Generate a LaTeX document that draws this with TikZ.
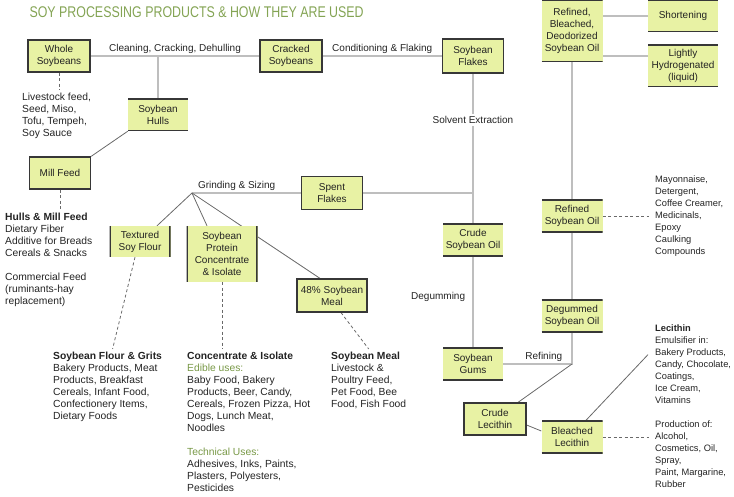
\documentclass[tikz,border=0pt]{standalone}
\usepackage{fontspec}
\setmainfont{Liberation Sans}
\newfontfamily\titlefont{Liberation Sans}[FakeStretch=0.8]
\usepackage{tikz}
\usetikzlibrary{backgrounds}
\usepackage{xcolor}
\definecolor{BoxFill}{RGB}{232,242,164}
\definecolor{Rule}{RGB}{55,55,55}
\definecolor{Pipe}{RGB}{190,190,190}
\definecolor{Wire}{RGB}{105,105,105}
\definecolor{Ink}{RGB}{35,35,35}
\definecolor{TitleGreen}{RGB}{132,164,84}
\definecolor{UseGreen}{RGB}{120,152,70}
\tikzset{
  sbox/.style={rectangle,fill=BoxFill,text=Ink,font=\fontsize{10}{12}\selectfont,
               align=center,minimum width=61pt,minimum height=32pt,inner sep=1pt},
  fullbox/.style={sbox,draw=Rule,line width=1.2pt},
  tbbox/.style={sbox,path picture={\draw[Rule,line width=2.6pt]
      (path picture bounding box.north west) -- (path picture bounding box.north east)
      (path picture bounding box.south west) -- (path picture bounding box.south east);}},
  lrbox/.style={sbox,path picture={\draw[Rule,line width=2.6pt]
      (path picture bounding box.north west) -- (path picture bounding box.south west)
      (path picture bounding box.north east) -- (path picture bounding box.south east);}},
  flow/.style={Pipe,line width=1.8pt},
  branch/.style={Wire,line width=0.8pt},
  usedash/.style={Wire,line width=0.8pt,dash pattern=on 3pt off 2.5pt},
  usetext/.style={anchor=north west,align=left,text=Ink,inner xsep=6pt,inner ysep=3pt,
                  font=\fontsize{10.3}{12}\selectfont},
  rtext/.style={usetext,font=\fontsize{9.3}{12}\selectfont},
  steplabel/.style={text=Ink,font=\fontsize{10}{12}\selectfont,inner sep=2pt},
}

\begin{document}
\begin{tikzpicture}[x=1pt,y=-1pt]
  \useasboundingbox (0,0) rectangle (734,497);
  \node[anchor=west,text=TitleGreen,font=\titlefont\fontsize{15.5}{18}\selectfont] (title) at (26,12)
    {SOY PROCESSING PRODUCTS \& HOW THEY ARE USED};

  \node[fullbox,minimum width=62pt] (whole) at (59,56) {Whole\\Soybeans};
  \node[fullbox,minimum width=62pt] (cracked) at (291,56) {Cracked\\Soybeans};
  \node[fullbox,minimum height=34pt] (flakes) at (473,56) {Soybean\\Flakes};
  \node[tbbox,minimum height=62pt] (rbd) at (572,31) {Refined,\\Bleached,\\Deodorized\\Soybean Oil};
  \node[tbbox,minimum width=70pt] (short) at (683,16) {Shortening};
  \node[tbbox,minimum width=70pt,minimum height=42pt] (light) at (683,66) {Lightly\\Hydrogenated\\(liquid)};
  \node[tbbox,minimum width=60pt] (hulls) at (158,115) {Soybean\\Hulls};
  \node[fullbox] (mill) at (60,173) {Mill Feed};
  \node[fullbox,minimum height=33pt] (spent) at (332,193) {Spent\\Flakes};
  \node[lrbox,minimum height=31pt] (flour) at (140,241.5) {Textured\\Soy Flour};
  \node[lrbox,minimum width=71pt,minimum height=56pt] (protein) at (222,254) {Soybean\\Protein\\Concentrate\\\& Isolate};
  \node[fullbox,minimum width=70pt,minimum height=33pt] (meal) at (332,295.5) {48\% Soybean\\Meal};
  \node[tbbox,minimum width=60pt,minimum height=33pt] (crudeoil) at (473,240) {Crude\\Soybean Oil};
  \node[tbbox,minimum height=33pt] (refined) at (572,216) {Refined\\Soybean Oil};
  \node[tbbox] (degummed) at (572,316) {Degummed\\Soybean Oil};
  \node[tbbox,minimum width=60pt,minimum height=33pt] (gums) at (473,364) {Soybean\\Gums};
  \node[fullbox,minimum width=62pt] (crudelec) at (495,419) {Crude\\Lecithin};
  \node[tbbox,minimum height=33pt] (bleached) at (572,437) {Bleached\\Lecithin};

  \node[usetext] (wholeuse) at (16,90) {Livestock feed,\\Seed, Miso,\\Tofu, Tempeh,\\Soy Sauce};
  \node[usetext] (milluse) at (-1,210) {\textbf{Hulls \& Mill Feed}\\Dietary Fiber\\Additive for Breads\\Cereals \& Snacks\\[12pt]
    Commercial Feed\\(ruminants-hay\\replacement)};
  \node[usetext] (flouruse) at (47,349) {\textbf{Soybean Flour \& Grits}\\Bakery Products, Meat\\Products, Breakfast\\
    Cereals, Infant Food,\\Confectionery Items,\\Dietary Foods};
  \node[usetext] (proteinuse) at (181,349) {\textbf{Concentrate \& Isolate}\\{\color{UseGreen}Edible uses:}\\Baby Food, Bakery\\
    Products, Beer, Candy,\\Cereals, Frozen Pizza, Hot\\Dogs, Lunch Meat,\\Noodles\\[12pt]
    {\color{UseGreen}Technical Uses:}\\Adhesives, Inks, Paints,\\Plasters, Polyesters,\\Pesticides};
  \node[usetext] (mealuse) at (325,349) {\textbf{Soybean Meal}\\Livestock \&\\Poultry Feed,\\Pet Food, Bee\\Food, Fish Food};
  \node[rtext] (mayo) at (649,173) {Mayonnaise,\\Detergent,\\Coffee Creamer,\\Medicinals,\\Epoxy\\Caulking\\Compounds};
  \node[rtext] (lecuse) at (649,322) {\textbf{Lecithin}\\Emulsifier in:\\Bakery Products,\\Candy, Chocolate,\\Coatings,\\Ice Cream,\\Vitamins};
  \node[rtext] (produse) at (649,418) {Production of:\\Alcohol,\\Cosmetics, Oil,\\Spray,\\Paint, Margarine,\\Rubber};

  \coordinate (branchpt) at (192,193);
  \coordinate (rjoin) at (degummed.south |- gums.east);

  \begin{scope}[on background layer]
    \draw[flow] (whole) -- node[steplabel,above] {Cleaning, Cracking, Dehulling} (cracked);
    \draw[flow] (cracked) -- node[steplabel,above] {Conditioning \& Flaking} (flakes);
    \draw[flow] (hulls.north) -- (hulls.north |- whole.east);
    \draw[flow] (flakes) -- node[steplabel,fill=white,pos=0.31] {Solvent Extraction} (crudeoil);
    \draw[flow] (crudeoil) -- node[steplabel,left=5pt,pos=0.44] {Degumming} (gums);
    \draw[flow] (branchpt) -- node[steplabel,above,pos=0.41] {Grinding \& Sizing} (spent);
    \draw[flow] (spent) -- (spent.east -| flakes.south);
    \draw[flow] (rbd) -- (refined);
    \draw[flow] (rbd.east |- short.west) -- (short.west);
    \draw[flow] ([yshift=10pt]light.west -| rbd.east) -- ([yshift=10pt]light.west);
    \draw[flow] (refined) -- (degummed);
    \draw[flow] (degummed) -- (rjoin) -- node[steplabel,above,pos=0.41] {Refining} (gums.east);

    \draw[branch] (mill.north east) -- (hulls.south west);
    \draw[branch] (branchpt) -- ([xshift=17pt]flour.north);
    \draw[branch] (branchpt) -- ([xshift=-15pt]protein.north);
    \draw[branch] (branchpt) -- ([xshift=-12pt]meal.north);
    \draw[branch] (rjoin) -- ([xshift=23pt]crudelec.north);
    \draw[branch] ([yshift=-6pt]crudelec.east) -- ([yshift=6pt]bleached.west);
    \draw[branch] ([xshift=14pt]bleached.north) -- ([xshift=-1pt,yshift=10pt]lecuse.west);

    \draw[usedash] (whole.south) -- (whole.south |- wholeuse.north);
    \draw[usedash] (mill.south) -- (mill.south |- milluse.north);
    \draw[usedash] ([xshift=-5pt]flour.south) -- ([xshift=5pt]flouruse.north);
    \draw[usedash] (protein.south) -- (protein.south |- proteinuse.north);
    \draw[usedash] ([xshift=9pt]meal.south) -- (mealuse.north);
    \draw[usedash] (refined.east) -- (refined.east -| mayo.west);
    \draw[usedash] (bleached.east) -- (bleached.east -| produse.west);
  \end{scope}
\end{tikzpicture}
\end{document}
